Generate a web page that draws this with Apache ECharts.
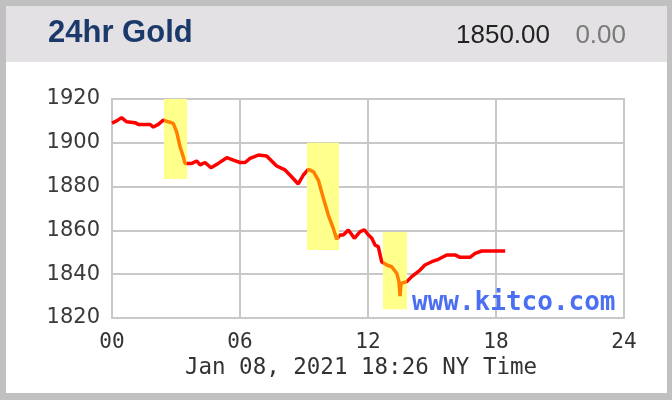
<!DOCTYPE html>
<html>
<head>
<meta charset="utf-8">
<script src="https://cdn.jsdelivr.net/npm/echarts@6/dist/echarts.min.js"></script>
<style>
html,body{margin:0;padding:0;background:#c0c0c0;}
#chart{width:672px;height:400px;}
</style>
</head>
<body>
<div id="chart"></div>
<script>
// ---- data ----
const title = '24hr Gold';
const lastPrice = '1850.00';
const change = '0.00';
const dateText = 'Jan 08, 2021 18:26 NY Time';
const watermark = 'www.kitco.com';
const xTickLabels = ['00', '06', '12', '18', '24'];
const yTicks = [1820, 1840, 1860, 1880, 1900, 1920];
const hours = [0, 0.22, 0.45, 0.69, 1.08, 1.23, 1.78, 1.94, 2.17, 2.41, 2.64, 2.87, 3.03, 3.19, 3.34, 3.42, 3.74, 3.97, 4.13, 4.36,
  4.64, 4.98, 5.38, 5.69, 6.0, 6.24, 6.47, 6.86, 7.25, 7.72, 8.11, 8.34, 8.73, 8.97, 9.2, 9.44, 9.67, 9.91, 10.14, 10.37,
  10.53, 10.69, 10.84, 11.08, 11.36, 11.63, 11.83, 12.02, 12.18, 12.33, 12.48, 12.64, 12.88, 13.11, 13.35, 13.45, 13.5, 13.55, 13.82, 14.05,
  14.44, 14.67, 14.99, 15.3, 15.69, 16.08, 16.32, 16.78, 17.02, 17.33, 17.8, 18.43];
const prices = [1909, 1910, 1911.5, 1909.6, 1909.2, 1908.4, 1908.4, 1907.2, 1908.4, 1910.4, 1909.6, 1908.9, 1905, 1898.2, 1893.7, 1890.6, 1890.6, 1891.7, 1889.9, 1891,
  1888.6, 1890.6, 1893.2, 1892.1, 1891, 1891, 1892.9, 1894.4, 1894, 1889.4, 1887.6, 1885.3, 1881.2, 1885.3, 1887.9, 1886.8, 1883, 1874.7, 1867, 1861,
  1856, 1857.9, 1857.9, 1860.2, 1856.4, 1859.4, 1860.2, 1857.9, 1856.4, 1853.3, 1852.6, 1845.7, 1844.2, 1843.4, 1840.4, 1836.6, 1830, 1835.8, 1836.6, 1838.9,
  1841.9, 1844.2, 1845.7, 1846.8, 1848.8, 1848.8, 1847.7, 1847.7, 1849.5, 1850.6, 1850.6, 1850.6];
// highlighted moves
const boxStart = [2.44, 9.14, 12.7];
const boxEnd = [3.52, 10.64, 13.83];
const boxHigh = [1920, 1900, 1859.3];
const boxLow = [1883.5, 1851, 1824];

// ---- chart ----
const chart = echarts.init(document.getElementById('chart'), null, {renderer: 'canvas'});
const seriesData = hours.map((h, i) => [h, prices[i]]);
const areas = boxStart.map((s, i) => [{coord: [s, boxHigh[i]]}, {coord: [boxEnd[i], boxLow[i]]}]);
const pieces = boxStart.map((s, i) => ({gte: s, lte: boxEnd[i], color: '#ff8000'}));
const gridColor = '#c8c8c8';

chart.setOption({
  backgroundColor: '#c0c0c0',
  animation: false,
  graphic: [
    {type: 'rect', z: -100, shape: {x: 6, y: 6, width: 661, height: 56}, style: {fill: '#e3e1e3'}},
    {type: 'rect', z: -100, shape: {x: 6, y: 62, width: 661, height: 331}, style: {fill: '#ffffff'}},
    {type: 'text', z: 100, style: {text: title, x: 48, y: 33, fill: '#1b3a6b',
      font: 'bold 31px "Liberation Sans", Arial, sans-serif', textAlign: 'left', textVerticalAlign: 'middle'}},
    {type: 'text', z: 100, style: {text: lastPrice, x: 550, y: 36, fill: '#222222',
      font: '26px "Liberation Sans", Arial, sans-serif', textAlign: 'right', textVerticalAlign: 'middle'}},
    {type: 'text', z: 100, style: {text: change, x: 626, y: 36, fill: '#7a7a7a',
      font: '26px "Liberation Sans", Arial, sans-serif', textAlign: 'right', textVerticalAlign: 'middle'}},
    {type: 'text', z: 100, style: {text: dateText, x: 361, y: 368, fill: '#333333',
      font: '22.5px "DejaVu Sans Mono", monospace', textAlign: 'center', textVerticalAlign: 'middle'}},
    {type: 'text', z: 100, style: {text: watermark, x: 412, y: 303, fill: '#4a6ff2',
      font: 'bold 26px "DejaVu Sans Mono", monospace', textAlign: 'left', textVerticalAlign: 'middle'}}
  ],
  grid: {left: 112, top: 99, width: 512, height: 219, show: true, borderColor: gridColor, borderWidth: 2, backgroundColor: 'transparent'},
  xAxis: {
    type: 'value', min: 0, max: 24, interval: 6,
    axisLine: {show: false}, axisTick: {show: false},
    splitLine: {show: true, lineStyle: {color: gridColor, width: 2}},
    axisLabel: {
      margin: 14, color: '#333333', fontFamily: '"DejaVu Sans Mono", monospace', fontSize: 21, lineHeight: 21,
      formatter: v => xTickLabels[Math.round(v / 6)]
    }
  },
  yAxis: {
    type: 'value', min: yTicks[0], max: yTicks[yTicks.length - 1], interval: 20,
    axisLine: {show: false}, axisTick: {show: false},
    splitLine: {show: true, lineStyle: {color: gridColor, width: 2}},
    axisLabel: {margin: 12, color: '#3a3a3a', fontFamily: '"DejaVu Sans", sans-serif', fontSize: 21,
      formatter: v => String(v)}
  },
  visualMap: {
    type: 'piecewise', show: false, dimension: 0, seriesIndex: 0,
    pieces: pieces, outOfRange: {color: '#ff0000'}
  },
  series: [{
    type: 'line', data: seriesData, symbol: 'none', showSymbol: false,
    lineStyle: {width: 3.5},
    markArea: {silent: true, itemStyle: {color: '#ffff8c', opacity: 1}, data: areas}
  }]
});
</script>
</body>
</html>
